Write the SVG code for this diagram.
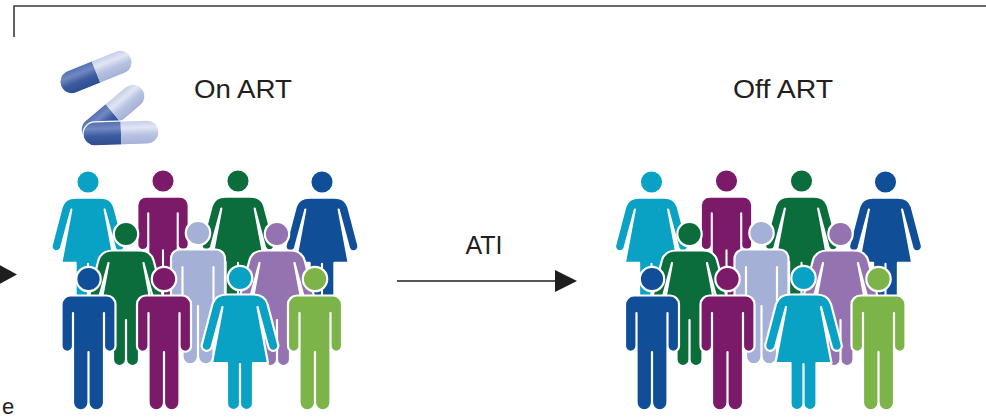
<svg xmlns="http://www.w3.org/2000/svg" xmlns:xlink="http://www.w3.org/1999/xlink" width="986" height="419" viewBox="0 0 986 419">
  <style>
    .fig { stroke: #ffffff; stroke-width: 2.2; stroke-linejoin: round; }
    .lbl { font-family: "Liberation Sans", Arial, sans-serif; fill: #231f20; }
    .cap { stroke: #ffffff; stroke-width: 1.2; }
    .frame { fill: none; stroke: #3a3a3a; stroke-width: 1.6; }
    .conn { stroke: #1e1e1e; stroke-width: 1.7; fill: none; }
  </style>
  <defs>
    <!-- pictograms, drawn around the head centre; zero-width slits become white gaps through the stroke -->
    <g id="man">
      <circle r="12.2"/>
      <path d="M -18,16.5 H 18 A 9 9 0 0 1 27,25.5 V 67 A 5.75 5.75 0 0 1 15.5,67 V 34 V 123.5 A 7.75 7.75 0 0 1 0,123.5 V 73 V 123.5 A 7.75 7.75 0 0 1 -15.5,123.5 V 34 V 67 A 5.75 5.75 0 0 1 -27,67 V 25.5 A 9 9 0 0 1 -18,16.5 Z"/>
    </g>
    <g id="woman">
      <circle r="12.2"/>
      <path d="M -13,16.5 H 13 Q 24.5,16.5 27.5,26 L 38,66 A 5 5 0 0 1 28.5,69.5 L 17.5,29 L 28,85 H 13 V 125.5 A 6.5 6.5 0 0 1 0,125.5 V 86 V 125.5 A 6.5 6.5 0 0 1 -13,125.5 V 85 H -28 L -17.5,29 L -28.5,69.5 A 5 5 0 0 1 -38,66 L -27.5,26 Q -24.5,16.5 -13,16.5 Z"/>
    </g>
    <!-- capsule shading -->
    <linearGradient id="capDark" x1="0" y1="0" x2="0" y2="1">
      <stop offset="0" stop-color="#5570b0"/>
      <stop offset="0.3" stop-color="#7088c2"/>
      <stop offset="0.6" stop-color="#3d5ba0"/>
      <stop offset="1" stop-color="#2d4b8e"/>
    </linearGradient>
    <linearGradient id="capLight" x1="0" y1="0" x2="0" y2="1">
      <stop offset="0" stop-color="#c3cce8"/>
      <stop offset="0.3" stop-color="#e1e6f4"/>
      <stop offset="0.6" stop-color="#b8c2e1"/>
      <stop offset="1" stop-color="#a3b0d7"/>
    </linearGradient>
    <g id="capsule">
      <path fill="url(#capDark)" d="M 0,-12 H -26 A 12 12 0 0 0 -26,12 H 0 Z"/>
      <path fill="url(#capLight)" d="M 0,-12 H 26 A 12 12 0 0 1 26,12 H 0 Z"/>
      <rect class="cap" fill="none" x="-38" y="-12" width="76" height="24" rx="12"/>
    </g>
    <marker id="arrowHead" markerUnits="userSpaceOnUse" markerWidth="22" markerHeight="22" viewBox="0 0 22 22" refX="1" refY="11" orient="auto">
      <path d="M 0,0 L 22,11 L 0,22 Z" fill="#1e1e1e"/>
    </marker>
  </defs>

  <!-- panel frame -->
  <path class="frame" d="M 14,37 V 6 H 986"/>

  <!-- connectors -->
  <g id="connectors">
    <polygon points="-6,262 17,274.5 -6,287" fill="#1e1e1e"/>
    <line class="conn" x1="397" y1="281" x2="556" y2="281" marker-end="url(#arrowHead)"/>
    <text class="lbl" x="484" y="254" font-size="25" text-anchor="middle">ATI</text>
  </g>

  <!-- left stage: on treatment -->
  <g id="on-art">
    <g id="pills">
      <use xlink:href="#capsule" transform="translate(96,72) rotate(-22)"/>
      <use xlink:href="#capsule" transform="translate(113,113) rotate(-40)"/>
      <use xlink:href="#capsule" transform="translate(121,133) rotate(-2)"/>
    </g>
    <text class="lbl" x="194" y="98" font-size="26" textLength="98" lengthAdjust="spacingAndGlyphs">On ART</text>
    <g id="crowd-on">
      <use xlink:href="#woman" class="fig" fill="#0aa2c4" transform="translate(88,182) scale(0.95)"/>
      <use xlink:href="#man" class="fig" fill="#7b1a68" transform="translate(163,181) scale(0.95)"/>
      <use xlink:href="#woman" class="fig" fill="#0b6c3c" transform="translate(238,181) scale(0.95)"/>
      <use xlink:href="#woman" class="fig" fill="#104f97" transform="translate(322,182) scale(0.95)"/>
      <use xlink:href="#woman" class="fig" fill="#0b6c3c" transform="translate(126,234)"/>
      <use xlink:href="#man" class="fig" fill="#a4b0d6" transform="translate(198,233)"/>
      <use xlink:href="#woman" class="fig" fill="#9573b0" transform="translate(277,234)"/>
      <use xlink:href="#man" class="fig" fill="#104f97" transform="translate(88.5,279)"/>
      <use xlink:href="#man" class="fig" fill="#7b1a68" transform="translate(164,279)"/>
      <use xlink:href="#woman" class="fig" fill="#0aa2c4" transform="translate(240,278)"/>
      <use xlink:href="#man" class="fig" fill="#7db44a" transform="translate(315,279)"/>
    </g>
  </g>

  <!-- right stage: off treatment -->
  <g id="off-art">
    <text class="lbl" x="733" y="98" font-size="26" textLength="100" lengthAdjust="spacingAndGlyphs">Off ART</text>
    <g id="crowd-off" transform="translate(563.5,0)">
      <use xlink:href="#woman" class="fig" fill="#0aa2c4" transform="translate(88,182) scale(0.95)"/>
      <use xlink:href="#man" class="fig" fill="#7b1a68" transform="translate(163,181) scale(0.95)"/>
      <use xlink:href="#woman" class="fig" fill="#0b6c3c" transform="translate(238,181) scale(0.95)"/>
      <use xlink:href="#woman" class="fig" fill="#104f97" transform="translate(322,182) scale(0.95)"/>
      <use xlink:href="#woman" class="fig" fill="#0b6c3c" transform="translate(126,234)"/>
      <use xlink:href="#man" class="fig" fill="#a4b0d6" transform="translate(198,233)"/>
      <use xlink:href="#woman" class="fig" fill="#9573b0" transform="translate(277,234)"/>
      <use xlink:href="#man" class="fig" fill="#104f97" transform="translate(88.5,279)"/>
      <use xlink:href="#man" class="fig" fill="#7b1a68" transform="translate(164,279)"/>
      <use xlink:href="#woman" class="fig" fill="#0aa2c4" transform="translate(240,278)"/>
      <use xlink:href="#man" class="fig" fill="#7db44a" transform="translate(315,279)"/>
    </g>
  </g>

  <!-- caption fragment at the lower left -->
  <text class="lbl" x="2" y="414" font-size="22">e</text>
</svg>
